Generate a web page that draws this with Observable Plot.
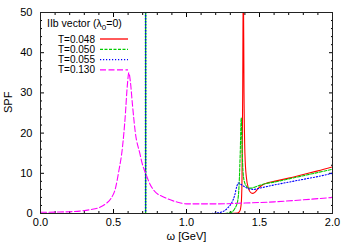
<!DOCTYPE html>
<html><head><meta charset="utf-8">
<script src="https://cdn.jsdelivr.net/npm/d3@7"></script>
<script src="https://cdn.jsdelivr.net/npm/@observablehq/plot@0.6"></script>
<style>
body{margin:0;background:#fff;}
#wrap{position:relative;width:349px;height:244px;}
#legend{position:absolute;left:0;top:0;pointer-events:none;}
</style></head><body><div id="wrap"></div>
<script>
const xTicks = [0, 0.5, 1.0, 1.5, 2.0];
const xMinor = [0.1,0.2,0.3,0.4,0.6,0.7,0.8,0.9,1.1,1.2,1.3,1.4,1.6,1.7,1.8,1.9];
const yTicks = [0, 10, 20, 30, 40, 50];
const yMinor = [2,4,6,8,12,14,16,18,22,24,26,28,32,34,36,38,42,44,46,48];
const xLabel = "ω [GeV]";
const yLabel = "SPF";
const legendTitle = "IIb vector (λ";
const legendTitleSub = "0";
const legendTitleEnd = "=0)";
const seriesNames = ["T=0.048", "T=0.050", "T=0.055", "T=0.130"];
const seriesColors = ["#ff0000", "#00cc00", "#0000ff", "#ff00ff"];
const seriesDash = ["none", "3,1.5", "1.2,1.8", "6,2.5"];

const omega048 = [0, 1.0, 1.3, 1.35, 1.365, 1.375, 1.38, 1.385, 1.389, 1.394, 1.40, 1.41, 1.425, 1.44, 1.455, 1.47, 1.49, 1.52, 1.56, 1.6, 1.7, 1.8, 1.9, 2.0];
const spf048   = [0, 0, 0, 0.1, 0.6, 2.5, 8, 30, 60, 30, 15, 9, 6.2, 5.2, 5.0, 5.3, 6.2, 7.1, 7.7, 8.0, 8.8, 9.7, 10.6, 11.6];

const omega050 = [0, 1.25, 1.3, 1.33, 1.35, 1.36, 1.368, 1.375, 1.381, 1.388, 1.40, 1.42, 1.44, 1.47, 1.5, 1.55, 1.6, 1.7, 1.8, 1.9, 2.0];
const spf050   = [0, 0, 0.2, 1.2, 3, 7, 15, 23.8, 16, 10, 7.5, 6.5, 6.3, 6.6, 7.0, 7.5, 7.8, 8.6, 9.4, 10.2, 11.0];

const omega055 = [0, 1.15, 1.2, 1.25, 1.28, 1.31, 1.33, 1.345, 1.355, 1.37, 1.40, 1.43, 1.46, 1.5, 1.6, 1.7, 1.8, 1.9, 2.0];
const spf055   = [0, 0, 0.1, 0.5, 1.3, 2.7, 4.5, 6.8, 7.6, 7.3, 6.6, 6.1, 6.0, 6.3, 7.1, 7.8, 8.5, 9.2, 10.0];

const omega130 = [0, 0.10, 0.20, 0.27, 0.34, 0.41, 0.45, 0.48, 0.515, 0.537, 0.56, 0.58, 0.595, 0.605, 0.615, 0.63, 0.65, 0.68, 0.70, 0.72, 0.75, 0.78, 0.85, 0.94, 1.00, 1.20, 1.40, 1.60, 1.80, 2.00];
const spf130   = [0.3, 0.35, 0.45, 0.6, 0.95, 1.6, 2.5, 3.6, 6.5, 10.7, 16, 24, 32, 35, 33, 27, 20, 15, 12, 10, 7.3, 5.6, 4.0, 2.8, 2.4, 2.4, 2.6, 2.9, 3.4, 4.0];

// sharp (delta-like) feature seen for T=0.050 and T=0.055
const deltaOmega = 0.72;
const deltaSeries = [1, 2];

const omegas = [omega048, omega050, omega055, omega130];
const spfs = [spf048, spf050, spf055, spf130];
const rows = [];
seriesNames.forEach((name, i) => omegas[i].forEach((w, j) => rows.push({series: name, idx: i, w, s: spfs[i][j]})));

const lineMarks = seriesNames.map((name, i) => Plot.line(rows.filter(r => r.idx === i), {
  x: "w", y: "s", stroke: seriesColors[i], strokeWidth: 1.1,
  strokeDasharray: seriesDash[i], curve: "monotone-x", clip: true
}));
const deltaMarks = deltaSeries.map(i => Plot.ruleX([deltaOmega], {
  stroke: seriesColors[i], strokeWidth: 1.4, strokeDasharray: i === 1 ? "none" : "1.5,1.5"
}));

const font = "'Liberation Sans', Arial, sans-serif";
const chart = Plot.plot({
  width: 349, height: 244,
  marginTop: 12, marginBottom: 31, marginLeft: 40, marginRight: 17,
  style: {fontFamily: font, fontSize: "11px", background: "#fff", color: "#000"},
  x: {domain: [0, 2]},
  y: {domain: [0, 50]},
  marks: [
    Plot.axisX(xTicks, {tickSize: 0, tickPadding: 5, tickFormat: d3.format(".1f"), label: null, fontSize: 11}),
    Plot.axisY(yTicks, {tickSize: 0, tickPadding: 8, label: null, fontSize: 11}),
    Plot.axisX(xTicks, {anchor: "bottom", tickSize: -4, text: null, label: null}),
    Plot.axisX(xTicks, {anchor: "top", tickSize: -4, text: null, label: null}),
    Plot.axisX(xMinor, {anchor: "bottom", tickSize: -2, text: null, label: null}),
    Plot.axisX(xMinor, {anchor: "top", tickSize: -2, text: null, label: null}),
    Plot.axisY(yTicks, {anchor: "left", tickSize: -4, text: null, label: null}),
    Plot.axisY(yTicks, {anchor: "right", tickSize: -4, text: null, label: null}),
    Plot.axisY(yMinor, {anchor: "left", tickSize: -2, text: null, label: null}),
    Plot.axisY(yMinor, {anchor: "right", tickSize: -2, text: null, label: null}),
    Plot.text([xLabel], {frameAnchor: "bottom", dy: 26, text: d => d, fontSize: 11}),
    Plot.text([yLabel], {frameAnchor: "left", dx: -32, rotate: -90, text: d => d, fontSize: 11}),
    ...deltaMarks,
    ...lineMarks,
    Plot.frame({stroke: "#222", strokeWidth: 1})
  ]
});
const wrap = document.getElementById("wrap");
wrap.appendChild(chart);

// legend inside the frame (top-left), gnuplot-style, as an overlay svg
const lsvg = d3.create("svg").attr("id", "legend").attr("width", 349).attr("height", 244)
  .attr("font-family", font).attr("font-size", 10);
const title = lsvg.append("text").attr("x", 47).attr("y", 27).attr("fill", "#000").attr("font-size", 10.5);
title.append("tspan").text(legendTitle);
title.append("tspan").attr("font-size", 8).attr("dy", 3).text(legendTitleSub);
title.append("tspan").attr("dy", -3).text(legendTitleEnd);
seriesNames.forEach((name, i) => {
  const cy = 39 + i * 10.3;
  lsvg.append("text").attr("x", 95).attr("y", cy + 3.5).attr("text-anchor", "end").attr("fill", "#000").text(name);
  lsvg.append("path").attr("d", `M100,${cy}H128`)
    .attr("stroke", seriesColors[i]).attr("stroke-width", 1.3).attr("fill", "none")
    .attr("stroke-dasharray", seriesDash[i]);
});
wrap.appendChild(lsvg.node());
</script></body></html>
